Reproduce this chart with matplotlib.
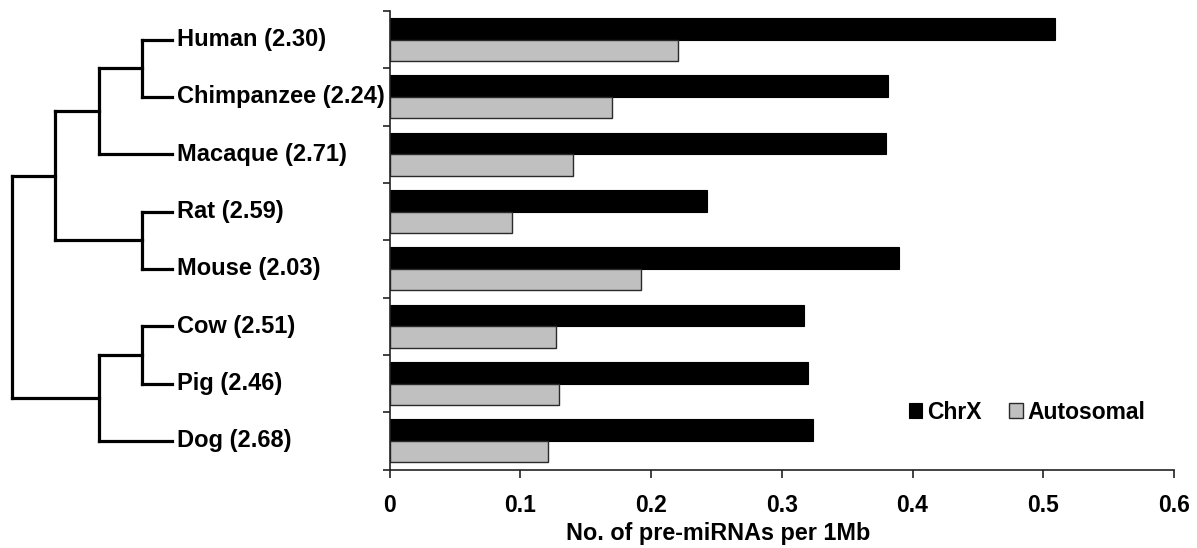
import numpy as np
import matplotlib
matplotlib.use("Agg")
import matplotlib.pyplot as plt

plt.rcParams['font.family'] = ['Liberation Sans', 'DejaVu Sans']
plt.rcParams['font.weight'] = 'bold'

species = ['Human', 'Chimpanzee', 'Macaque', 'Rat', 'Mouse', 'Cow', 'Pig', 'Dog']
ratio = ['2.30', '2.24', '2.71', '2.59', '2.03', '2.51', '2.46', '2.68']
chrx = [0.509, 0.381, 0.380, 0.243, 0.390, 0.317, 0.320, 0.324]
autosomal = [0.221, 0.170, 0.140, 0.094, 0.192, 0.127, 0.130, 0.121]
xticks = [0, 0.1, 0.2, 0.3, 0.4, 0.5, 0.6]
xticklabels = ['0', '0.1', '0.2', '0.3', '0.4', '0.5', '0.6']

# tree: [level, left, right]; leaves are species names
tree = [0, [1, [2, [3, 'Human', 'Chimpanzee'], 'Macaque'], [3, 'Rat', 'Mouse']],
        [2, [3, 'Cow', 'Pig'], 'Dog']]
leaf_level = 3.7

W, H = 1197, 548
fig = plt.figure(figsize=(W / 100, H / 100), dpi=100)

x0, x1 = 389.5, 1174
ytop, ybot = 11, 469.5
ax = fig.add_axes([x0 / W, 1 - ybot / H, (x1 - x0) / W, (ybot - ytop) / H])
tree_ax = fig.add_axes([0, 1 - ybot / H, x0 / W, (ybot - ytop) / H], sharey=ax)

pos = np.arange(len(species))
h = 0.375
ax.barh(pos - h / 2, chrx, height=h, color='black', edgecolor='black', linewidth=0.8, label='ChrX')
ax.barh(pos + h / 2, autosomal, height=h, color='#c0c0c0', edgecolor='#2a2a2a', linewidth=1.0, label='Autosomal')

ax.set_xlim(0, 0.6)
ax.set_ylim(len(species) - 0.5, -0.5)
ax.set_xticks(xticks)
ax.set_xticklabels(xticklabels, fontsize=16.5, fontweight='bold')
ax.set_yticks(np.arange(-0.5, len(species), 1))
ax.set_yticklabels([])
ax.tick_params(axis='x', direction='out', length=6, width=1.2, pad=12, colors='#222222', labelcolor='black')
ax.tick_params(axis='y', direction='out', length=5, width=1.2, colors='#222222')
for s in ['top', 'right']:
    ax.spines[s].set_visible(False)
for s in ['left', 'bottom']:
    ax.spines[s].set_linewidth(1.2)
    ax.spines[s].set_color('#222222')
ax.set_xlabel('No. of pre-miRNAs per 1Mb', fontsize=16.8, fontweight='bold')
ax.xaxis.set_label_coords(0.419, -0.115)

ax.legend(loc='center', bbox_to_anchor=(0.8126, 0.1254), ncol=2, frameon=False,
          prop={'size': 16.5, 'weight': 'bold'}, handlelength=0.6, handleheight=0.6,
          handletextpad=0.2, columnspacing=1.2, borderpad=0)


def draw(node):
    if isinstance(node, str):
        return leaf_level, species.index(node)
    level, a, b = node
    xa, ya = draw(a)
    xb, yb = draw(b)
    tree_ax.plot([level, level], [ya, yb], color='black', lw=2.3, solid_capstyle='projecting')
    tree_ax.plot([level, xa], [ya, ya], color='black', lw=2.3, solid_capstyle='projecting')
    tree_ax.plot([level, xb], [yb, yb], color='black', lw=2.3, solid_capstyle='projecting')
    return level, (ya + yb) / 2


draw(tree)
for i, (name, r) in enumerate(zip(species, ratio)):
    tree_ax.text(leaf_level + 0.1, i, f'{name} ({r})', ha='left', va='center',
                 fontsize=17, fontweight='bold')

scale = 43.3
tree_ax.set_xlim(-12 / scale, (x0 - 12) / scale)
tree_ax.axis('off')

fig.savefig('out.png', dpi=100)
